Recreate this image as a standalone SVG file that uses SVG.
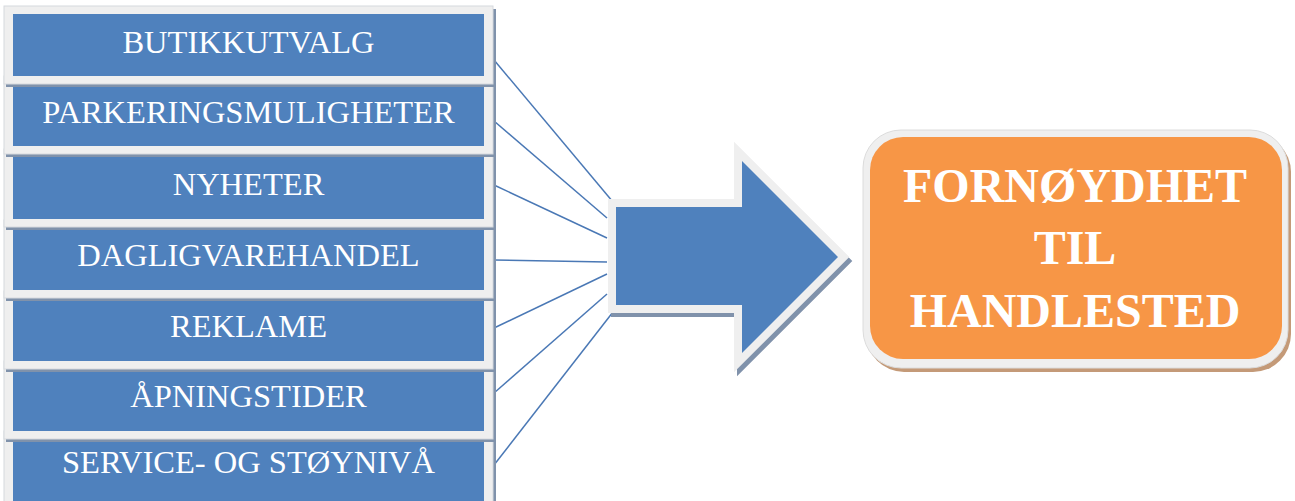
<svg xmlns="http://www.w3.org/2000/svg" width="1295" height="501" viewBox="0 0 1295 501">
<style>
.frame{fill:#efefef;stroke:#d6d9de;stroke-width:1}
.shadow{fill:#8092ab}
.inner{fill:#4f81bd}
.lbl{font-family:"Liberation Serif","Times New Roman",serif;font-size:32.5px;fill:#ffffff;text-anchor:middle}
.conn{stroke:#4a78b5;stroke-width:1.5;fill:none}
.big{font-family:"Liberation Serif","Times New Roman",serif;font-size:48px;font-weight:bold;fill:#ffffff;text-anchor:middle}
</style>
<rect width="1295" height="501" fill="#ffffff"/>
<g id="connectors">
<line class="conn" x1="494" y1="60" x2="613" y2="202"/>
<line class="conn" x1="494" y1="121" x2="607" y2="218"/>
<line class="conn" x1="494" y1="185" x2="607" y2="238"/>
<line class="conn" x1="494" y1="260" x2="607" y2="262"/>
<line class="conn" x1="494" y1="328" x2="607" y2="274"/>
<line class="conn" x1="494" y1="393" x2="607" y2="294"/>
<line class="conn" x1="494" y1="465" x2="613" y2="312"/>
</g>
<g id="box7">
<rect class="shadow" x="6" y="434" width="490" height="78"/>
<rect class="frame" x="4" y="431" width="489" height="78"/>
<rect class="inner" x="13" y="439" width="471" height="62"/>
<text class="lbl" x="248.5" y="473">SERVICE- OG STØYNIVÅ</text>
</g>
<g id="box6">
<rect class="shadow" x="6" y="364" width="490" height="78"/>
<rect class="frame" x="4" y="361" width="489" height="78"/>
<rect class="inner" x="13" y="369" width="471" height="62"/>
<text class="lbl" x="248.5" y="407">ÅPNINGSTIDER</text>
</g>
<g id="box5">
<rect class="shadow" x="6" y="294" width="490" height="78"/>
<rect class="frame" x="4" y="291" width="489" height="78"/>
<rect class="inner" x="13" y="299" width="471" height="62"/>
<text class="lbl" x="248.5" y="337">REKLAME</text>
</g>
<g id="box4">
<rect class="shadow" x="6" y="223" width="490" height="78"/>
<rect class="frame" x="4" y="220" width="489" height="78"/>
<rect class="inner" x="13" y="228" width="471" height="62"/>
<text class="lbl" x="248.5" y="266">DAGLIGVAREHANDEL</text>
</g>
<g id="box3">
<rect class="shadow" x="6" y="152" width="490" height="78"/>
<rect class="frame" x="4" y="149" width="489" height="78"/>
<rect class="inner" x="13" y="157" width="471" height="62"/>
<text class="lbl" x="248.5" y="195">NYHETER</text>
</g>
<g id="box2">
<rect class="shadow" x="6" y="79" width="490" height="78"/>
<rect class="frame" x="4" y="76" width="489" height="78"/>
<rect class="inner" x="13" y="84" width="471" height="62"/>
<text class="lbl" x="248.5" y="123">PARKERINGSMULIGHETER</text>
</g>
<g id="box1">
<rect class="shadow" x="6" y="9" width="490" height="78"/>
<rect class="frame" x="4" y="6" width="489" height="78"/>
<rect class="inner" x="13" y="14" width="471" height="62"/>
<text class="lbl" x="248.5" y="53">BUTIKKUTVALG</text>
</g>
<g id="arrow">
<path d="M616,207 H742 V161 L838,257 L742,353 V305 H616 Z" transform="translate(3,4)" fill="#8092ab" stroke="#8092ab" stroke-width="16" stroke-linejoin="miter"/>
<path d="M616,207 H742 V161 L838,257 L742,353 V305 H616 Z" fill="#efefef" stroke="#efefef" stroke-width="16" stroke-linejoin="miter"/>
<path d="M616,207 H742 V161 L838,257 L742,353 V305 H616 Z" fill="#4f81bd"/>
</g>
<g id="result">
<rect x="866" y="134" width="425" height="238" rx="38" fill="#c49a78"/>
<rect x="863" y="130" width="425" height="238" rx="38" fill="#efefef" stroke="#dcdcdc" stroke-width="1"/>
<rect x="870" y="137" width="412" height="222" rx="33" fill="#f79646"/>
<text class="big" x="1075" y="202">FORNØYDHET</text>
<text class="big" x="1075" y="264">TIL</text>
<text class="big" x="1075" y="327">HANDLESTED</text>
</g>
</svg>
